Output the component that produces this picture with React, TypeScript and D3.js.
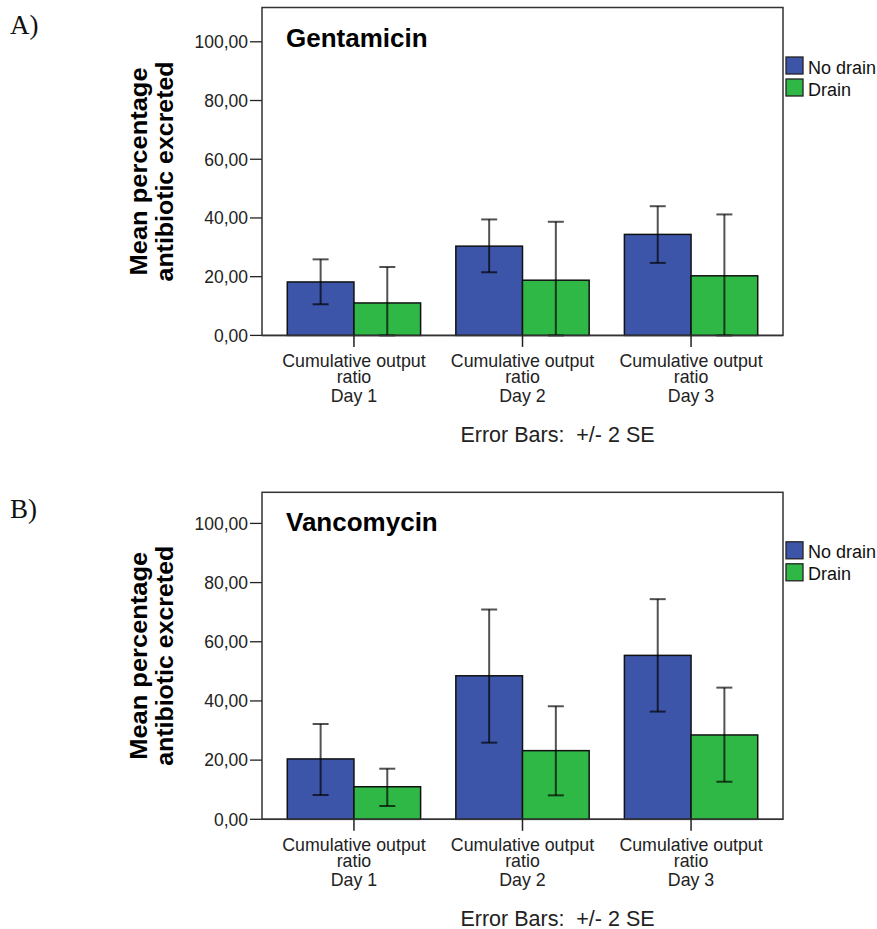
import React from "react";
import * as d3 from "d3";

// values
const categories = ["Day 1", "Day 2", "Day 3"];
const groups = ["No drain", "Drain"];
const yTicks = [0, 20, 40, 60, 80, 100];

const gentaNoDrain = [18.2, 30.4, 34.4];
const gentaNoDrainLo = [10.6, 21.5, 24.7];
const gentaNoDrainHi = [25.9, 39.5, 44.0];
const gentaDrain = [11.05, 18.8, 20.3];
const gentaDrainLo = [0, 0, 0];
const gentaDrainHi = [23.3, 38.7, 41.2];

const vancoNoDrain = [20.4, 48.5, 55.4];
const vancoNoDrainLo = [8.2, 25.9, 36.4];
const vancoNoDrainHi = [32.2, 70.9, 74.4];
const vancoDrain = [11.0, 23.2, 28.5];
const vancoDrainLo = [4.5, 8.1, 12.7];
const vancoDrainHi = [17.1, 38.2, 44.5];

const colors = ["#3d55a8", "#30b846"];
const SANS = "'Liberation Sans', Arial, sans-serif";

const frameLeft = 262;
const frameRight = 783;

const panels = [
  {
    letter: "A)",
    title: "Gentamicin",
    top: 7.5,
    zeroY: 335.4,
    hundredY: 41.8,
    means: [gentaNoDrain, gentaDrain],
    lo: [gentaNoDrainLo, gentaDrainLo],
    hi: [gentaNoDrainHi, gentaDrainHi],
  },
  {
    letter: "B)",
    title: "Vancomycin",
    top: 492.3,
    zeroY: 819.3,
    hundredY: 523.4,
    means: [vancoNoDrain, vancoDrain],
    lo: [vancoNoDrainLo, vancoDrainLo],
    hi: [vancoNoDrainHi, vancoDrainHi],
  },
];

const fmt = (v: number) => v.toFixed(2).replace(".", ",");

const Panel = ({ p }: { p: (typeof panels)[number] }) => {
  const x = d3
    .scaleBand()
    .domain(categories)
    .range([frameLeft, frameRight])
    .paddingInner(0.209)
    .paddingOuter(0.15);
  const xSub = d3.scaleBand().domain(groups).range([0, x.bandwidth()]);
  const y = d3.scaleLinear().domain([0, 100]).range([p.zeroY, p.hundredY]);
  const cy = (p.top + p.zeroY) / 2;

  return (
    <g>
      <text x={10} y={p.top + 26} fontFamily="'Liberation Serif', 'Times New Roman', serif" fontSize={27} fill="#111">
        {p.letter}
      </text>

      {/* y axis title */}
      <g fontFamily={SANS} fontWeight="bold" fontSize={24} fill="#000" textAnchor="middle">
        <text transform={`translate(147,${cy}) rotate(-90)`} textLength={208} lengthAdjust="spacingAndGlyphs">
          Mean percentage
        </text>
        <text transform={`translate(173,${cy}) rotate(-90)`} textLength={220} lengthAdjust="spacingAndGlyphs">
          antibiotic excreted
        </text>
      </g>

      {/* y ticks */}
      {yTicks.map((t) => (
        <g key={t}>
          <line x1={250} x2={frameLeft} y1={y(t)} y2={y(t)} stroke="#222" strokeWidth={1.3} />
          <text x={248} y={y(t)} dy="0.36em" textAnchor="end" fontFamily={SANS} fontSize={17.5} fill="#222">
            {fmt(t)}
          </text>
        </g>
      ))}

      {/* frame */}
      <rect
        x={frameLeft}
        y={p.top}
        width={frameRight - frameLeft}
        height={p.zeroY - p.top}
        fill="none"
        stroke="#333"
        strokeWidth={1.5}
      />

      <text x={286} y={p.top + 39} fontFamily={SANS} fontWeight="bold" fontSize={26} fill="#000">
        {p.title}
      </text>

      {/* bars */}
      {categories.map((c, ci) =>
        groups.map((g, gi) => {
          const bx = (x(c) as number) + (xSub(g) as number);
          const bw = xSub.bandwidth();
          const m = p.means[gi][ci];
          return (
            <rect
              key={c + g}
              x={bx}
              y={y(m)}
              width={bw}
              height={y(0) - y(m)}
              fill={colors[gi]}
              stroke="#111"
              strokeWidth={1.5}
            />
          );
        })
      )}

      {/* error bars */}
      {categories.map((c, ci) =>
        groups.map((g, gi) => {
          const ex = (x(c) as number) + (xSub(g) as number) + xSub.bandwidth() / 2;
          const yl = y(p.lo[gi][ci]);
          const yh = y(p.hi[gi][ci]);
          return (
            <g key={"e" + c + g} stroke="#000" strokeOpacity={0.68} strokeWidth={2}>
              <line x1={ex} x2={ex} y1={yl} y2={yh} />
              <line x1={ex - 8} x2={ex + 8} y1={yh} y2={yh} />
              <line x1={ex - 8} x2={ex + 8} y1={yl} y2={yl} />
            </g>
          );
        })
      )}

      {/* x axis line & ticks */}
      <line x1={frameLeft} x2={frameRight} y1={p.zeroY} y2={p.zeroY} stroke="#333" strokeWidth={1.5} />
      {categories.map((c) => {
        const cx = (x(c) as number) + x.bandwidth() / 2;
        return (
          <g key={"t" + c}>
            <line x1={cx} x2={cx} y1={p.zeroY} y2={p.zeroY + 11.5} stroke="#222" strokeWidth={1.5} />
            <text textAnchor="middle" fontFamily={SANS} fontSize={17.8} fill="#222">
              <tspan x={cx} y={p.zeroY + 31.4}>Cumulative output</tspan>
              <tspan x={cx} y={p.zeroY + 48}>ratio</tspan>
              <tspan x={cx} y={p.zeroY + 66.4}>{c}</tspan>
            </text>
          </g>
        );
      })}

      <text
        x={557.5}
        y={p.zeroY + 106.4}
        textAnchor="middle"
        fontFamily={SANS}
        fontSize={21.5}
        fill="#222"
        style={{ whiteSpace: "pre" }}
      >
        {"Error Bars:  +/- 2 SE"}
      </text>

      {/* legend */}
      {groups.map((g, gi) => (
        <g key={"l" + g}>
          <rect
            x={786}
            y={p.top + 49.5 + gi * 22}
            width={17}
            height={17}
            fill={colors[gi]}
            stroke="#222"
            strokeWidth={1.3}
          />
          <text x={808} y={p.top + 66 + gi * 22} fontFamily={SANS} fontSize={18} fill="#111">
            {g}
          </text>
        </g>
      ))}
    </g>
  );
};

export default function App() {
  return (
    <svg
      width={877}
      height={929}
      style={{ position: "absolute", left: 0, top: 0, background: "#fff" }}
    >
      <rect width={877} height={929} fill="#fff" />
      {panels.map((p) => (
        <Panel key={p.letter} p={p} />
      ))}
    </svg>
  );
}
